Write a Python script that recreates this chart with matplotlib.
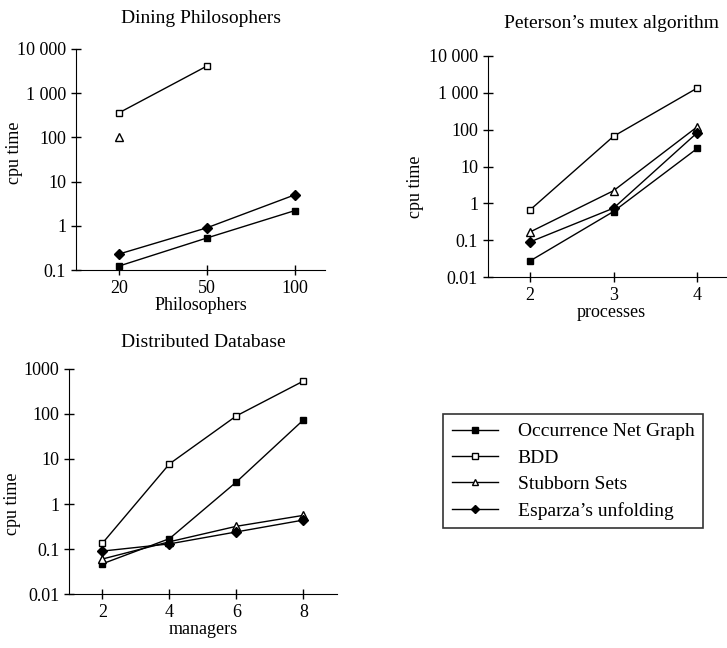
import numpy as np
import matplotlib
matplotlib.use("Agg")
import matplotlib.pyplot as plt
from matplotlib.lines import Line2D

plt.rcParams['font.family'] = ['Liberation Serif', 'DejaVu Serif']

series = ["Occurrence Net Graph", "BDD", "Stubborn Sets", "Esparza\u2019s unfolding"]
markers = ["s", "s", "^", "D"]
faces = ["black", "white", "white", "black"]
msizes = [5, 5, 5.5, 5]

# Dining Philosophers
dp_x = ["20", "50", "100"]
dp_ong = [0.123, 0.53, 2.2]
dp_bdd = [360, 4100, np.nan]
dp_stub = [100, np.nan, np.nan]
dp_esp = [0.23, 0.9, 5.0]

# Peterson's mutex
pm_x = ["2", "3", "4"]
pm_ong = [0.027, 0.6, 31]
pm_bdd = [0.65, 66, 1350]
pm_stub = [0.165, 2.2, 120]
pm_esp = [0.089, 0.74, 83]

# Distributed Database
db_x = [2, 4, 6, 8]
db_ong = [0.047, 0.17, 3.1, 74]
db_bdd = [0.135, 7.8, 91, 540]
db_stub = [0.06, 0.145, 0.32, 0.56]
db_esp = [0.09, 0.13, 0.24, 0.44]

fig = plt.figure(figsize=(7.27, 6.48), dpi=100)
FS = 13
TFS = 14

def style(ax):
    for s in ["top", "right"]:
        ax.spines[s].set_visible(False)
    ax.tick_params(direction="inout", length=7, width=1, labelsize=FS)
    ax.tick_params(which="minor", length=0)
    ax.set_yscale("log")

def draw(ax, x, data):
    for i, y in enumerate(data):
        ax.plot(x, y, color="black", lw=1, marker=markers[i], ms=msizes[i],
                mfc=faces[i], mec="black", mew=1, clip_on=False)

# Dining
ax1 = fig.add_axes([0.1045, 0.5833, 0.343, 0.3411])
style(ax1)
draw(ax1, np.arange(3), [dp_ong, dp_bdd, dp_stub, dp_esp])
ax1.set_xlim(-0.49, 2.35)
ax1.set_ylim(0.1, 10000)
ax1.set_xticks(np.arange(3), dp_x)
ax1.set_yticks([0.1, 1, 10, 100, 1000, 10000], ["0.1", "1", "10", "100", "1 000", "10 000"])
ax1.set_ylabel("cpu time", fontsize=FS)
ax1.yaxis.set_label_coords(-0.212, 0.53)
ax1.set_xlabel("Philosophers", fontsize=FS, labelpad=0)
ax1.set_title("Dining Philosophers", fontsize=TFS, pad=19)

# Peterson
ax2 = fig.add_axes([0.671, 0.5725, 0.34, 0.3411])
style(ax2)
draw(ax2, np.arange(3), [pm_ong, pm_bdd, pm_stub, pm_esp])
ax2.set_xlim(-0.5, 2.45)
ax2.set_ylim(0.01, 10000)
ax2.set_xticks(np.arange(3), pm_x)
ax2.set_yticks([0.01, 0.1, 1, 10, 100, 1000, 10000],
               ["0.01", "0.1", "1", "10", "100", "1 000", "10 000"])
ax2.set_ylabel("cpu time", fontsize=FS)
ax2.yaxis.set_label_coords(-0.259, 0.41)
ax2.set_xlabel("processes", fontsize=FS, labelpad=0)
ax2.set_title("Peterson\u2019s mutex algorithm", fontsize=TFS, pad=20)

# Distributed Database
ax3 = fig.add_axes([0.0949, 0.0833, 0.3686, 0.3473])
style(ax3)
draw(ax3, db_x, [db_ong, db_bdd, db_stub, db_esp])
ax3.set_xlim(1, 9)
ax3.set_ylim(0.01, 1000)
ax3.set_xticks(db_x, [str(v) for v in db_x])
ax3.set_yticks([0.01, 0.1, 1, 10, 100, 1000], ["0.01", "0.1", "1", "10", "100", "1000"])
ax3.set_ylabel("cpu time", fontsize=FS)
ax3.yaxis.set_label_coords(-0.179, 0.40)
ax3.set_xlabel("managers", fontsize=FS, labelpad=0)
ax3.set_title("Distributed Database", fontsize=TFS, pad=16)

handles = [Line2D([], [], color="black", lw=1, marker=markers[i], ms=msizes[i] - 1,
                  mfc=faces[i], mec="black") for i in range(4)]
leg = fig.legend(handles, series, loc="upper left", bbox_to_anchor=(443/727, 1 - 414/648),
                 fontsize=TFS, frameon=True, fancybox=False, edgecolor="black",
                 handlelength=2.4, handletextpad=1.0, labelspacing=0.45, borderpad=0.45,
                 borderaxespad=0)
leg.get_frame().set_linewidth(1.2)

fig.savefig("out.png", dpi=100)
